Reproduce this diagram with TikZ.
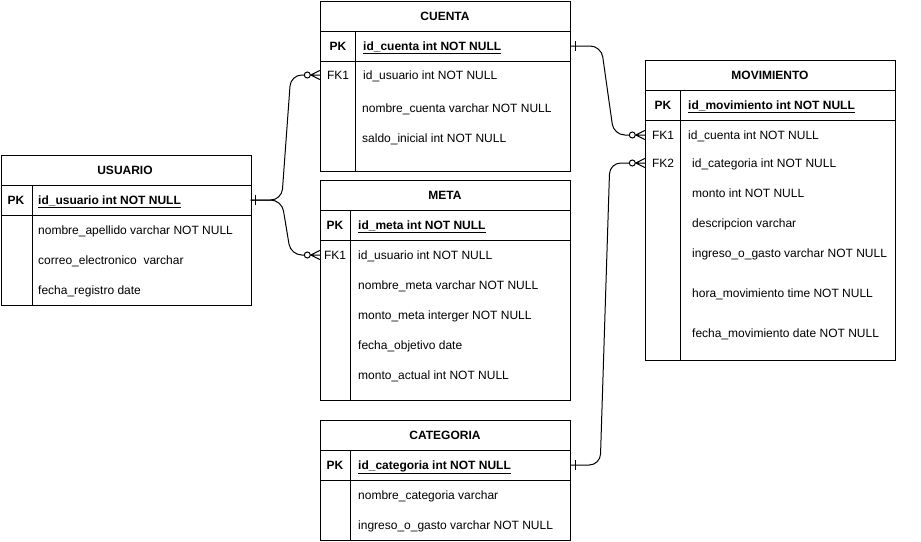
\documentclass[tikz,border=0pt]{standalone}
\usepackage{fontspec}
\setmainfont{Liberation Sans}
\begin{document}
\begin{tikzpicture}[x=1pt,y=-1pt,
  tbox/.style={draw, line width=1pt, minimum width=250pt, anchor=north west, inner sep=0},
  rowbox/.style={minimum width=250pt, minimum height=28pt, inner sep=0},
  txt/.style={font=\fontsize{12}{14}\selectfont, inner sep=0, text height=8.6pt, text depth=0pt},
  ttl/.style={txt, font=\fontsize{12}{14}\selectfont\bfseries},
  key/.style={txt, font=\fontsize{12}{14}\selectfont\bfseries},
  fk/.style={txt},
  fld/.style={txt, anchor=west},
  pkf/.style={fld, font=\fontsize{12}{14}\selectfont\bfseries},
  sep/.style={line width=1pt},
  rel/.style={line width=1pt, rounded corners=11pt},
  zm/.pic={\draw[line width=1pt] (-12.5,0) circle (3pt); \draw[line width=1pt] (-9.5,0) -- (0,0) (-9,0) -- (0,-4.5) (-9,0) -- (0,4.5);},
  one/.pic={\draw[line width=1pt] (5,-5) -- (5,5);}
]
\useasboundingbox (0,0) rectangle (921,541);

% ---------- USUARIO ----------
\node[tbox, minimum height=150pt] (usuario) at (0.5,155) {};
\node[ttl] (u-t) at (125,170) {USUARIO};
\draw[sep] (0.5,185) -- (250.5,185) (0.5,215) -- (250.5,215) (32,185) -- (32,305);
\node[rowbox] (u-pk) at (125.5,200) {};
\node[key] (u-pkl) at (16,200) {PK};
\node[pkf] (u-f0) at (38,200) {\underline{id\_usuario int NOT NULL}};
\node[fld] (u-f1) at (38,230) {nombre\_apellido varchar NOT NULL};
\node[fld] (u-f2) at (38,260) {correo\_electronico\ \ varchar};
\node[fld] (u-f3) at (38,290) {fecha\_registro date};

% ---------- CUENTA ----------
\node[tbox, minimum height=170pt] (cuenta) at (320,1) {};
\node[ttl] (c-t) at (445,16) {CUENTA};
\draw[sep] (320,31) -- (570,31) (320,61) -- (570,61) (355.5,31) -- (355.5,171);
\node[rowbox] (c-pk) at (445,46) {};
\node[rowbox] (c-fk1) at (445,75) {};
\node[key] (c-pkl) at (338,46) {PK};
\node[pkf] (c-f0) at (363,46) {\underline{id\_cuenta int NOT NULL}};
\node[fk] (c-fkl) at (338,75) {FK1};
\node[fld] (c-f1) at (363,75) {id\_usuario int NOT NULL};
\node[fld] (c-f2) at (362,108) {nombre\_cuenta varchar NOT NULL};
\node[fld] (c-f3) at (362,138) {saldo\_inicial int NOT NULL};

% ---------- META ----------
\node[tbox, minimum height=220pt] (meta) at (320,180) {};
\node[ttl] (me-t) at (445,195) {META};
\draw[sep] (320,210) -- (570,210) (320,240) -- (570,240) (350.5,210) -- (350.5,400);
\node[rowbox] (me-fk1) at (445,255) {};
\node[key] (me-pkl) at (335,225) {PK};
\node[pkf] (me-f0) at (358,225) {\underline{id\_meta int NOT NULL}};
\node[fk] (me-fkl) at (335,255) {FK1};
\node[fld] (me-f1) at (358,255) {id\_usuario int NOT NULL};
\node[fld] (me-f2) at (358,285) {nombre\_meta varchar NOT NULL};
\node[fld] (me-f3) at (358,315) {monto\_meta interger NOT NULL};
\node[fld] (me-f4) at (358,345) {fecha\_objetivo date};
\node[fld] (me-f5) at (358,375) {monto\_actual int NOT NULL};

% ---------- CATEGORIA ----------
\node[tbox, minimum height=120pt] (categoria) at (320,420) {};
\node[ttl] (ca-t) at (445,435) {CATEGORIA};
\draw[sep] (320,450) -- (570,450) (320,480) -- (570,480) (350.5,450) -- (350.5,540);
\node[rowbox] (ca-pk) at (445,465) {};
\node[key] (ca-pkl) at (335,465) {PK};
\node[pkf] (ca-f0) at (358,465) {\underline{id\_categoria int NOT NULL}};
\node[fld] (ca-f1) at (358,495) {nombre\_categoria varchar};
\node[fld] (ca-f2) at (358,525) {ingreso\_o\_gasto varchar NOT NULL};

% ---------- MOVIMIENTO ----------
\node[tbox, minimum height=300pt] (movimiento) at (645,60) {};
\node[ttl] (mv-t) at (770,75) {MOVIMIENTO};
\draw[sep] (645,90) -- (895,90) (645,120) -- (895,120) (680.5,90) -- (680.5,360);
\node[rowbox] (mv-fk1) at (770,135) {};
\node[rowbox] (mv-fk2) at (770,163) {};
\node[key] (mv-pkl) at (663,105) {PK};
\node[pkf] (mv-f0) at (688,105) {\underline{id\_movimiento int NOT NULL}};
\node[fk] (mv-fkl1) at (663,135) {FK1};
\node[fk] (mv-fkl2) at (663,163) {FK2};
\node[fld] (mv-f1) at (688,135) {id\_cuenta int NOT NULL};
\node[fld] (mv-f2) at (692,163) {id\_categoria int NOT NULL};
\node[fld] (mv-f3) at (692,193) {monto int NOT NULL};
\node[fld] (mv-f4) at (692,223) {descripcion varchar};
\node[fld] (mv-f5) at (692,253) {ingreso\_o\_gasto varchar NOT NULL};
\node[fld] (mv-f6) at (692,293) {hora\_movimiento time NOT NULL};
\node[fld] (mv-f7) at (692,333) {fecha\_movimiento date NOT NULL};

% ---------- connectors ----------
\draw[rel] (u-pk.east) -- ++(31,0) -- ([xshift=-29pt]c-fk1.west) -- ([xshift=-15.5pt]c-fk1.west);
\draw[rel] (u-pk.east) -- ++(31,0) -- ([xshift=-29pt]me-fk1.west) -- ([xshift=-15.5pt]me-fk1.west);
\draw[rel] (c-pk.east) -- ++(31,0) -- ([xshift=-31pt]mv-fk1.west) -- ([xshift=-15.5pt]mv-fk1.west);
\draw[rel] (ca-pk.east) -- ++(30,0) -- ([xshift=-35pt]mv-fk2.west) -- ([xshift=-15.5pt]mv-fk2.west);
\pic at (u-pk.east) {one};
\pic at (c-pk.east) {one};
\pic at (ca-pk.east) {one};
\pic at (c-fk1.west) {zm};
\pic at (me-fk1.west) {zm};
\pic at (mv-fk1.west) {zm};
\pic at (mv-fk2.west) {zm};
\end{tikzpicture}
\end{document}
